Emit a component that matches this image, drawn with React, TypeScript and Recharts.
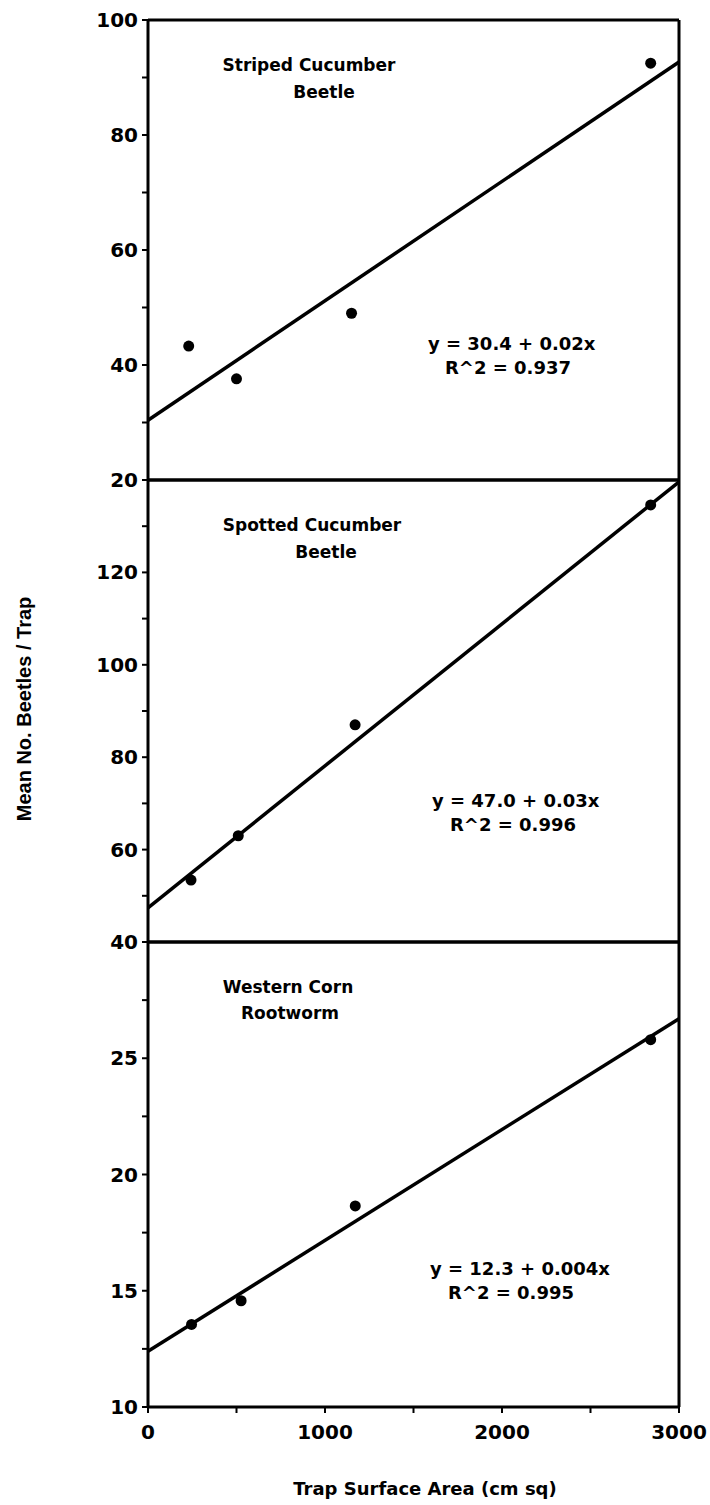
import { ScatterChart, Scatter, XAxis, YAxis, ReferenceLine } from "recharts"

// trap surface area ticks (cm sq)
const xTicks = [0, 500, 1000, 1500, 2000, 2500, 3000]
const xLabelled = [0, 1000, 2000, 3000]

// Striped cucumber beetle
const stripedPoints = [
  { x: 230, y: 43.3 },
  { x: 500, y: 37.6 },
  { x: 1150, y: 49.0 },
  { x: 2840, y: 92.5 },
]
const stripedFit = [
  { x: 0, y: 30.4 },
  { x: 3000, y: 92.7 },
]
const stripedTicks = [20, 30, 40, 50, 60, 70, 80, 90, 100]
const stripedLabelled = [20, 40, 60, 80, 100]

// Spotted cucumber beetle
const spottedPoints = [
  { x: 243, y: 53.4 },
  { x: 510, y: 63.0 },
  { x: 1170, y: 87.0 },
  { x: 2840, y: 134.6 },
]
const spottedFit = [
  { x: 0, y: 47.4 },
  { x: 3000, y: 139.6 },
]
const spottedTicks = [40, 50, 60, 70, 80, 90, 100, 110, 120, 130, 140]
const spottedLabelled = [40, 60, 80, 100, 120]

// Western corn rootworm
const rootwormPoints = [
  { x: 246, y: 13.55 },
  { x: 526, y: 14.57 },
  { x: 1171, y: 18.65 },
  { x: 2840, y: 25.8 },
]
const rootwormFit = [
  { x: 0, y: 12.4 },
  { x: 3000, y: 26.7 },
]
const rootwormTicks = [10, 12.5, 15, 17.5, 20, 22.5, 25, 27.5, 30]
const rootwormLabelled = [10, 15, 20, 25]

const FONT = "'DejaVu Sans', Verdana, sans-serif"
const AXIS = { stroke: "#000", strokeWidth: 3 }

function makeTick(labelled: number[]) {
  return (props: any) => {
    const { x, y, payload, textAnchor } = props
    if (!labelled.includes(payload.value)) return <g />
    return (
      <text
        x={x}
        y={y}
        textAnchor={textAnchor}
        dominantBaseline="central"
        fontFamily={FONT}
        fontWeight="bold"
        fontSize={20}
        fill="#000"
      >
        {payload.value}
      </text>
    )
  }
}

const noDot = () => <g />

interface PanelProps {
  top: number
  height: number
  points: { x: number; y: number }[]
  fit: { x: number; y: number }[]
  ticks: number[]
  labelled: number[]
  showX?: boolean
}

function Panel({ top, height, points, fit, ticks, labelled, showX }: PanelProps) {
  const lo = ticks[0]
  const hi = ticks[ticks.length - 1]
  return (
    <div style={{ position: "absolute", left: 0, top }}>
      <ScatterChart
        width={710}
        height={height}
        margin={{ top: 20, right: 31, bottom: showX ? 0 : 20, left: 0 }}
      >
        <XAxis
          type="number"
          dataKey="x"
          domain={[0, 3000]}
          ticks={xTicks}
          interval={0}
          hide={!showX}
          height={98}
          axisLine={AXIS}
          tickLine={{ stroke: "#000", strokeWidth: 2 }}
          tickSize={6}
          tick={makeTick(xLabelled)}
          tickMargin={19}
        />
        <YAxis
          type="number"
          dataKey="y"
          domain={[lo, hi]}
          ticks={ticks}
          interval={0}
          width={148}
          axisLine={AXIS}
          tickLine={{ stroke: "#000", strokeWidth: 2 }}
          tickSize={6}
          tickMargin={4}
          tick={makeTick(labelled)}
        />
        <ReferenceLine x={3000} stroke="#000" strokeWidth={3} />
        <ReferenceLine y={hi} stroke="#000" strokeWidth={3} />
        {!showX && <ReferenceLine y={lo} stroke="#000" strokeWidth={3} />}
        <Scatter
          data={fit}
          line={{ stroke: "#000", strokeWidth: 3.5 }}
          shape={noDot}
          isAnimationActive={false}
        />
        <Scatter data={points} fill="#000" isAnimationActive={false} shape={(p: any) => (
          <circle cx={p.cx} cy={p.cy} r={5.5} fill="#000" />
        )} />
      </ScatterChart>
    </div>
  )
}

const txt = { fontFamily: FONT, fontWeight: "bold" as const, fontSize: 17, fill: "#000" }
const eq = { ...txt, fontSize: 18 }

export default function App() {
  return (
    <div style={{ position: "absolute", left: 0, top: 0, width: 710, height: 1505, background: "#fff" }}>
      <Panel top={0} height={500} points={stripedPoints} fit={stripedFit} ticks={stripedTicks} labelled={stripedLabelled} />
      <Panel top={460} height={502} points={spottedPoints} fit={spottedFit} ticks={spottedTicks} labelled={spottedLabelled} />
      <Panel top={922} height={583} points={rootwormPoints} fit={rootwormFit} ticks={rootwormTicks} labelled={rootwormLabelled} showX />
      <svg width={710} height={1505} style={{ position: "absolute", left: 0, top: 0, pointerEvents: "none" }}>
        <g dominantBaseline="central">
          <text x={309} y={65} textAnchor="middle" {...txt}>Striped Cucumber</text>
          <text x={324} y={92} textAnchor="middle" {...txt}>Beetle</text>
          <text x={428} y={343} {...eq}>y = 30.4 + 0.02x</text>
          <text x={445} y={367} {...eq}>R^2 = 0.937</text>

          <text x={312} y={525} textAnchor="middle" {...txt}>Spotted Cucumber</text>
          <text x={326} y={552} textAnchor="middle" {...txt}>Beetle</text>
          <text x={432} y={800} {...eq}>y = 47.0 + 0.03x</text>
          <text x={450} y={824} {...eq}>R^2 = 0.996</text>

          <text x={288} y={987} textAnchor="middle" {...txt}>Western Corn</text>
          <text x={290} y={1013} textAnchor="middle" {...txt}>Rootworm</text>
          <text x={430} y={1268} {...eq}>y = 12.3 + 0.004x</text>
          <text x={448} y={1292} {...eq}>R^2 = 0.995</text>

          <text
            x={24}
            y={709}
            textAnchor="middle"
            transform="rotate(-90 24 709)"
            fontFamily="'Liberation Sans', Arial, sans-serif"
            fontWeight="bold"
            fontSize={20}
            fill="#000"
          >
            Mean No. Beetles / Trap
          </text>
          <text x={425} y={1488} textAnchor="middle" {...txt} fontSize={18}>
            Trap Surface Area (cm sq)
          </text>
        </g>
      </svg>
    </div>
  )
}
